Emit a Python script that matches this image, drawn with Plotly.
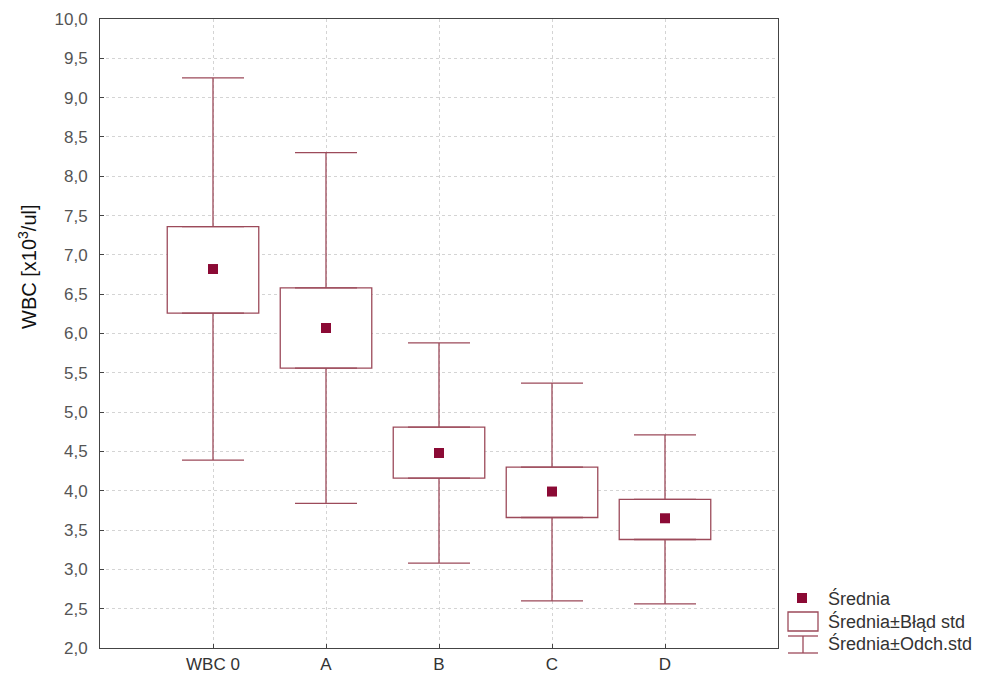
import plotly.graph_objects as go

categories = ["WBC 0", "A", "B", "C", "D"]
mean = [6.82, 6.07, 4.48, 3.99, 3.65]
se_upper = [7.36, 6.58, 4.81, 4.30, 3.89]
se_lower = [6.26, 5.56, 4.16, 3.66, 3.38]
sd_upper = [9.25, 8.30, 5.88, 5.37, 4.71]
sd_lower = [4.39, 3.84, 3.08, 2.60, 2.56]
y_ticks = [2 + 0.5 * i for i in range(17)]
legend_labels = ["Średnia", "Średnia±Błąd std", "Średnia±Odch.std"]
y_title = "WBC [x10<sup>3</sup>/ul]"

line_c = "#9c4a5a"
mark_c = "#8b0a35"
FONT = "Liberation Sans, Arial"
xs = list(range(len(categories)))

fig = go.Figure()
# whiskers (upper part from box top, lower part from box bottom)
fig.add_trace(go.Scatter(
    x=xs, y=se_upper, mode="markers",
    marker=dict(size=1, color="rgba(0,0,0,0)"),
    error_y=dict(type="data", symmetric=False,
                 array=[u - t for u, t in zip(sd_upper, se_upper)],
                 arrayminus=[0] * len(xs), color=line_c, thickness=1.3, width=31),
    showlegend=False, hoverinfo="skip"))
fig.add_trace(go.Scatter(
    x=xs, y=se_lower, mode="markers",
    marker=dict(size=1, color="rgba(0,0,0,0)"),
    error_y=dict(type="data", symmetric=False,
                 array=[0] * len(xs),
                 arrayminus=[b - l for b, l in zip(se_lower, sd_lower)],
                 color=line_c, thickness=1.3, width=31),
    showlegend=False, hoverinfo="skip"))
# boxes
fig.add_trace(go.Bar(
    x=xs, y=[u - l for u, l in zip(se_upper, se_lower)], base=se_lower,
    width=0.81, marker=dict(color="white", line=dict(color=line_c, width=1.3)),
    showlegend=False))
# means
fig.add_trace(go.Scatter(
    x=xs, y=mean, mode="markers",
    marker=dict(symbol="square", size=10, color=mark_c, line=dict(width=0)),
    showlegend=False))

# custom legend (paper coords from pixel layout)
L, R, T, B = 100, 778, 19, 648
def px(x):
    return (x - L) / (R - L)
def py(y):
    return (B - y) / (B - T)

shapes = [
    dict(type="rect", xref="paper", yref="paper", x0=px(797), x1=px(807), y0=py(593), y1=py(603),
         fillcolor=mark_c, line=dict(width=0)),
    dict(type="rect", xref="paper", yref="paper", x0=px(788), x1=px(818), y0=py(612), y1=py(631),
         fillcolor="white", line=dict(color=line_c, width=1.3)),
    dict(type="line", xref="paper", yref="paper", x0=px(788), x1=px(818), y0=py(636), y1=py(636),
         line=dict(color=line_c, width=1.3)),
    dict(type="line", xref="paper", yref="paper", x0=px(803), x1=px(803), y0=py(636), y1=py(653),
         line=dict(color=line_c, width=1.3)),
    dict(type="line", xref="paper", yref="paper", x0=px(788), x1=px(818), y0=py(653), y1=py(653),
         line=dict(color=line_c, width=1.3)),
]
annotations = []
for lbl, yy in zip(legend_labels, [598, 621, 643]):
    annotations.append(dict(text=lbl, xref="paper", yref="paper", x=px(826), y=py(yy),
                            xanchor="left", yanchor="middle", showarrow=False,
                            font=dict(size=18, color="#333333", family=FONT)))
annotations.append(dict(text=y_title, xref="paper", yref="paper", x=px(27), y=py(267),
                        xanchor="center", yanchor="middle", showarrow=False, textangle=-90,
                        font=dict(size=20, color="#111111", family=FONT)))

axis_common = dict(showgrid=True, gridcolor="#d4d4d4", griddash="dot", gridwidth=1,
                   showline=True, linecolor="#444444", linewidth=1, mirror=True,
                   ticks="inside", ticklen=4, tickcolor="#444444", zeroline=False,
                   automargin=False)

fig.update_layout(
    width=984, height=677,
    margin=dict(l=100, r=206, t=19, b=29),
    paper_bgcolor="white", plot_bgcolor="white",
    separators=", ",
    showlegend=False,
    shapes=shapes, annotations=annotations,
    font=dict(family=FONT, size=13, color="#555555"),
    xaxis=dict(range=[-1, 5], tickvals=xs, ticktext=categories,
               tickfont=dict(size=17, color="#333333"), ticklabelstandoff=1, **axis_common),
    yaxis=dict(range=[2, 10], tickvals=y_ticks, tickformat=".1f",
               tickfont=dict(size=17, color="#555555"), ticklabelstandoff=8, **axis_common),
)

fig.write_html("out.html")
